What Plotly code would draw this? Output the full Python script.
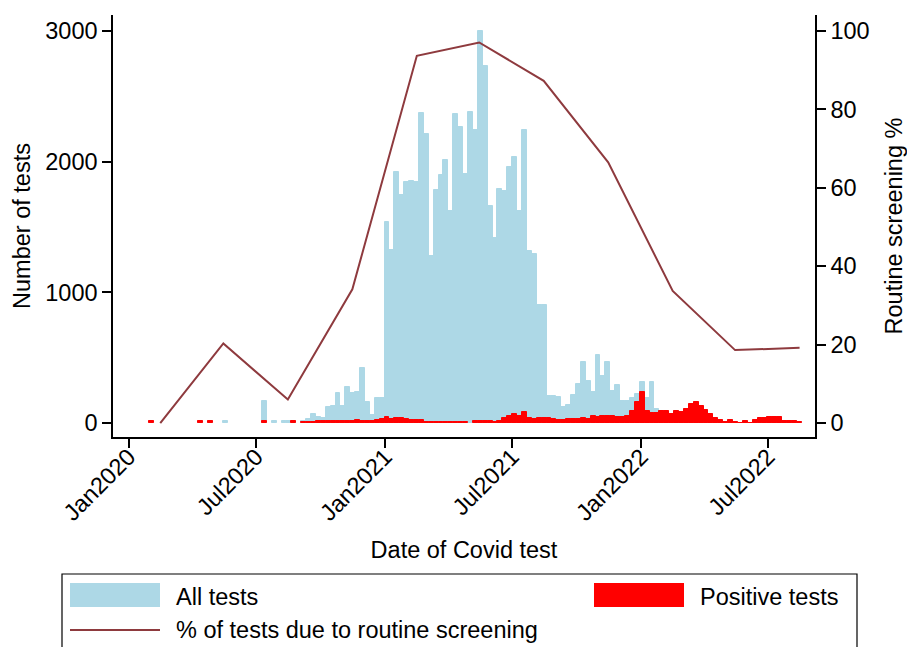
import pandas as pd
import plotly.graph_objects as go

# ---------------- data ----------------
first_week = "2020-01-30"   # start of first weekly bin
all_tests = [
    15, 0, 0, 0, 0, 0, 0, 0, 0, 0,          # k=-48..-39
    15, 0, 15, 0, 0, 15, 0, 0, 0, 0,        # k=-38..-29
    0, 0, 0, 168, 0, 15, 0, 15, 15, 15,     # k=-28..-19
    0, 12, 28, 68, 48, 40, 125, 128, 227, 130,   # k=-18..-9
    278, 227, 235, 423, 158, 61, 189, 189,       # k=-8..-1
    1540, 1324, 1918, 1745, 1842, 1852, 1842, 2372, 2214, 1278,   # k=0..9
    1783, 1900, 2015, 1620, 2364, 2265, 1908, 2377, 2245, 2997,   # k=10..19
    2734, 1660, 1413, 1790, 1775, 1961, 2038, 1622, 2245, 1316,   # k=20..29
    1295, 900, 900, 209, 209, 196, 125, 138, 214, 297,            # k=30..39
    466, 322, 235, 524, 362, 466, 246, 293, 167, 167,             # k=40..49
    195, 225, 316, 190, 316, 110, 94, 92, 71, 92,                 # k=50..59
    84, 110, 147, 163, 128, 100, 67, 36, 23, 10,                  # k=60..69
    23, 10, 3, 15, 3, 23, 36, 41, 44, 44,                         # k=70..79
    46, 18, 18, 18, 5,                                            # k=80..84
]
positive_tests = [
    15, 0, 0, 0, 0, 0, 0, 0, 0, 0,
    15, 0, 15, 0, 0, 0, 0, 0, 0, 0,
    0, 0, 0, 15, 0, 0, 0, 0, 0, 15,
    0, 10, 10, 10, 12, 12, 14, 14, 16, 16,
    18, 16, 20, 16, 16, 18, 20, 30,
    44, 32, 36, 36, 27, 20, 20, 20, 10, 10,
    10, 10, 10, 10, 10, 10, 10, 0, 15, 15,
    15, 15, 5, 15, 36, 56, 69, 56, 87, 41,
    31, 41, 36, 36, 31, 23, 23, 31, 31, 31,
    38, 31, 54, 46, 54, 54, 54, 46, 46, 54,
    89, 163, 240, 92, 79, 79, 92, 92, 71, 92,
    84, 110, 147, 163, 128, 100, 67, 36, 23, 10,
    23, 10, 3, 15, 3, 23, 36, 41, 44, 44,
    46, 18, 18, 18, 5,
]
screen_dates = ["2020-02-15", "2020-05-15", "2020-08-15", "2020-11-15",
                "2021-02-15", "2021-05-15", "2021-08-15", "2021-11-15",
                "2022-02-15", "2022-05-15", "2022-08-15"]
screen_pct = [0, 20.3, 6.0, 34.1, 93.7, 97.1, 87.3, 66.5, 33.7, 18.6, 19.2]

tick_dates = ["2020-01-01", "2020-07-01", "2021-01-01", "2021-07-01",
              "2022-01-01", "2022-07-01"]
tick_labels = ["Jan2020", "Jul2020", "Jan2021", "Jul2021", "Jan2022", "Jul2022"]

# ---------------- styling ----------------
W, H = 907, 647
L, R, T, B = 113, 815, 15, 437
FONT = "Liberation Sans, Arial, sans-serif"
FS = 23.5
BLUE = "#ADD8E6"
RED = "#FF0000"
LINE = "#8E3A3E"

weeks = pd.date_range(first_week, periods=len(all_tests), freq="7D") + pd.Timedelta(hours=84)
week_ms = 7 * 24 * 3600 * 1000


def nz(v):
    return [x if x else None for x in v]


fig = go.Figure()
fig.add_trace(go.Bar(x=weeks, y=nz(all_tests), width=week_ms, name="All tests",
                     marker=dict(color=BLUE, line=dict(color=BLUE, width=1))))
fig.add_trace(go.Bar(x=weeks, y=nz(positive_tests), width=week_ms, name="Positive tests",
                     marker=dict(color=RED, line=dict(color=RED, width=1))))
fig.add_trace(go.Scatter(x=screen_dates, y=screen_pct, yaxis="y2", mode="lines",
                         name="% of tests due to routine screening",
                         line=dict(color=LINE, width=2)))


def px(x):
    return (x - L) / (R - L)


def py(y):
    return (B - y) / (B - T)


shapes = [
    dict(type="rect", xref="paper", yref="paper", x0=px(62), x1=px(857),
         y0=py(700), y1=py(574), line=dict(color="black", width=1.2), fillcolor="white"),
    dict(type="rect", xref="paper", yref="paper", x0=px(70), x1=px(160),
         y0=py(607), y1=py(583), line=dict(width=0), fillcolor=BLUE),
    dict(type="rect", xref="paper", yref="paper", x0=px(594), x1=px(684),
         y0=py(607), y1=py(583), line=dict(width=0), fillcolor=RED),
    dict(type="line", xref="paper", yref="paper", x0=px(70), x1=px(160),
         y0=py(630), y1=py(630), line=dict(color=LINE, width=2)),
]
annotations = [
    dict(text="All tests", xref="paper", yref="paper", x=px(174), y=py(597),
         xanchor="left", yanchor="middle", showarrow=False, font=dict(size=FS, color="black", family=FONT)),
    dict(text="Positive tests", xref="paper", yref="paper", x=px(698), y=py(597),
         xanchor="left", yanchor="middle", showarrow=False, font=dict(size=FS, color="black", family=FONT)),
    dict(text="% of tests due to routine screening", xref="paper", yref="paper", x=px(174), y=py(630),
         xanchor="left", yanchor="middle", showarrow=False, font=dict(size=FS, color="black", family=FONT)),
]

axis_common = dict(showline=True, linecolor="black", linewidth=1.5, ticks="outside",
                   ticklen=9, tickwidth=1.5, tickcolor="black", showgrid=False,
                   zeroline=False, tickfont=dict(size=FS, color="black", family=FONT))

fig.update_layout(
    width=W, height=H, autosize=False,
    margin=dict(l=L, r=W - R, t=T, b=H - B, autoexpand=False),
    paper_bgcolor="white", plot_bgcolor="white",
    barmode="overlay", bargap=0, showlegend=False,
    font=dict(family=FONT, size=FS, color="black"),
    xaxis=dict(axis_common, type="date", range=["2019-12-09 14:00", "2022-09-06"],
               tickvals=tick_dates, ticktext=tick_labels, tickangle=-45,
               ticklabelstandoff=-14,
               title=dict(text="Date of Covid test", standoff=17,
                          font=dict(size=FS, color="black", family=FONT))),
    yaxis=dict(axis_common, range=[-107, 3122], tickvals=[0, 1000, 2000, 3000],
               title=dict(text="Number of tests", standoff=8,
                          font=dict(size=FS, color="black", family=FONT))),
    yaxis2=dict(axis_common, overlaying="y", side="right", range=[-3.57, 104.1],
                tickvals=[0, 20, 40, 60, 80, 100],
                title=dict(text="Routine screening %", standoff=21,
                           font=dict(size=FS, color="black", family=FONT))),
    shapes=shapes, annotations=annotations,
)

fig.write_html("out.html", config={"displayModeBar": False},
               post_script="document.body.style.margin='0';document.body.style.padding='0';")
